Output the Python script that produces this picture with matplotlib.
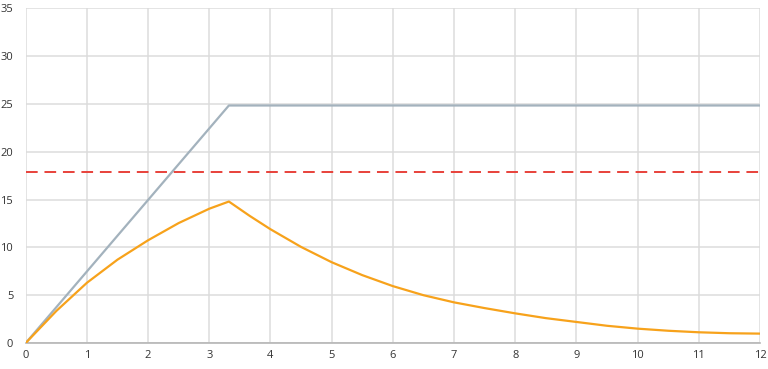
import numpy as np
import matplotlib
matplotlib.use("Agg")
import matplotlib.pyplot as plt

# data
gray_x = [0, 3.32, 12]
gray_y = [0, 24.85, 24.85]

orange_x = [0, 0.5, 1, 1.5, 2, 2.5, 3, 3.32, 3.66, 4, 4.5, 5, 5.5, 6, 6.5, 7, 7.5,
            8, 8.5, 9, 9.5, 10, 10.5, 11, 11.5, 12]
orange_y = [0, 3.35, 6.3, 8.72, 10.75, 12.55, 14.05, 14.8, 13.3, 11.9, 10.05, 8.45, 7.1, 5.95, 5.0, 4.25, 3.65,
            3.1, 2.6, 2.2, 1.8, 1.5, 1.28, 1.12, 1.02, 0.98]

limit_y = 17.9

x_ticks = list(range(0, 13))
y_ticks = list(range(0, 36, 5))

plt.rcParams['font.family'] = ['Open Sans', 'DejaVu Sans']

fig = plt.figure(figsize=(7.68, 3.69), dpi=100)
ax = fig.add_axes([0.0335, 0.0705, 0.9561, 0.9065])

ax.plot(gray_x, gray_y, color='#a3b2bd', lw=1.6, zorder=3)
ax.plot(orange_x, orange_y, color='#f7a21b', lw=1.6, zorder=4)
ax.axhline(limit_y, color='#e8413a', lw=1.4, dashes=(6, 3.5), zorder=3)

ax.set_xlim(0, 12)
ax.set_ylim(0, 35)
ax.set_xticks(x_ticks)
ax.set_yticks(y_ticks)
ax.grid(True, color='#dcdcdc', lw=1.1)
ax.set_axisbelow(True)
for s in ['top', 'right', 'left']:
    ax.spines[s].set_visible(False)
ax.spines['bottom'].set_color('#b5b5b5')
ax.spines['bottom'].set_linewidth(1.2)
ax.tick_params(length=0, labelsize=8, colors='#333333', pad=5)
ax.tick_params(axis='y', pad=9)

fig.savefig('out.png', dpi=100)
